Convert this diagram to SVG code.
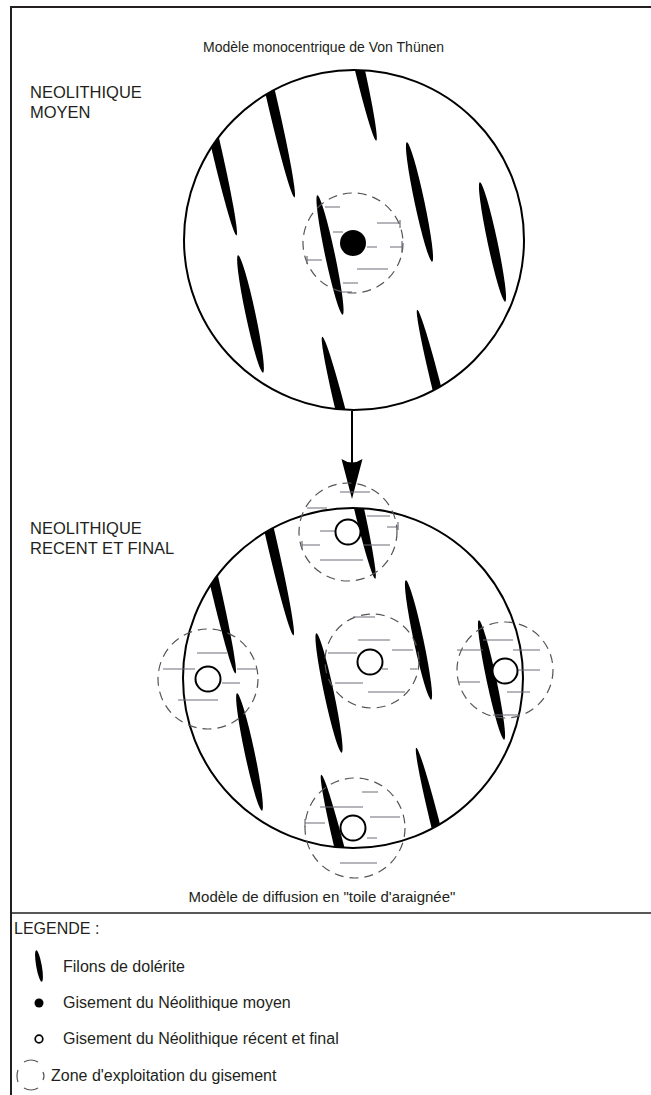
<svg xmlns="http://www.w3.org/2000/svg" xmlns:xlink="http://www.w3.org/1999/xlink" width="651" height="1095" viewBox="0 0 651 1095">
<style>
.t{font-family:"Liberation Sans","Open Sans",Arial,sans-serif;fill:#231f20}
.fil{fill:#000}
.ring{fill:none;stroke:#000;stroke-width:2}
.zone{fill:none;stroke:#555;stroke-width:1.2;stroke-dasharray:9 6}
.h{stroke:#6d6e78;stroke-width:1.2;fill:none}
.site{fill:#fff;stroke:#000;stroke-width:2}
</style>
<defs>
<clipPath id="clipC"><circle cx="354" cy="240" r="170"/></clipPath>
<g id="filons">
<ellipse class="fil" cx="0" cy="0" rx="4.9" ry="100" transform="translate(214,138) rotate(-13)"/>
<ellipse class="fil" cx="0" cy="0" rx="5" ry="100" transform="translate(272,100) rotate(-13)"/>
<ellipse class="fil" cx="0" cy="0" rx="5" ry="90" transform="translate(356,53) rotate(-13)"/>
<ellipse class="fil" cx="0" cy="0" rx="4.9" ry="61" transform="translate(419.5,202) rotate(-12)"/>
<ellipse class="fil" cx="0" cy="0" rx="4.9" ry="61" transform="translate(492.5,242) rotate(-12)"/>
<ellipse class="fil" cx="0" cy="0" rx="4.9" ry="61" transform="translate(330,255) rotate(-12)"/>
<ellipse class="fil" cx="0" cy="0" rx="4.9" ry="60" transform="translate(250.5,314) rotate(-12)"/>
<ellipse class="fil" cx="0" cy="0" rx="5" ry="90" transform="translate(344,424) rotate(-14)"/>
<ellipse class="fil" cx="0" cy="0" rx="4.6" ry="90" transform="translate(439,397) rotate(-14)"/>
</g>
<marker id="arr" viewBox="0 0 40 22" refX="9" refY="11" markerWidth="40" markerHeight="22" markerUnits="userSpaceOnUse" orient="auto">
<path d="M40,11 L0,0.5 Q7,11 0,21.5 Z" fill="#000"/>
</marker>
</defs>

<g id="frame">
<path d="M11,1095 V7 H651" fill="none" stroke="#231f20" stroke-width="2"/>
<line x1="11" y1="913" x2="651" y2="913" stroke="#231f20" stroke-width="1.5"/>
</g>

<text class="t" x="203" y="52" font-size="14">Modèle monocentrique de Von Thünen</text>

<g id="panel-moyen">
<text class="t" x="30" y="98" font-size="16.5">NEOLITHIQUE</text>
<text class="t" x="30" y="118" font-size="16.5">MOYEN</text>
<g clip-path="url(#clipC)"><use xlink:href="#filons"/></g>
<circle class="ring" cx="354" cy="240" r="170"/>
<g id="zone-moyen">
<circle class="zone" cx="353" cy="243" r="50"/>
<path class="h" d="M325,207H340 M377,223H400 M400,220V228 M333,232H343 M367,247H377 M390,247H402 M402,241V253 M307,260H322 M307,256V264 M357,269H388 M343,283H358 M342,292H352"/>
<circle cx="353" cy="243" r="13" fill="#000"/>
</g>
</g>

<g id="connectors">
<line x1="352" y1="411" x2="352" y2="468" stroke="#000" stroke-width="2" marker-end="url(#arr)"/>
</g>

<g id="panel-recent">
<text class="t" x="30" y="534" font-size="16.5">NEOLITHIQUE</text>
<text class="t" x="30" y="554" font-size="16.5">RECENT ET FINAL</text>
<g transform="translate(-1,438)">
<g clip-path="url(#clipC)"><use xlink:href="#filons"/></g>
<circle class="ring" cx="354" cy="240" r="170"/>
</g>
<g id="site-top">
<circle class="zone" cx="348" cy="532" r="49"/>
<path class="h" d="M340,492H370 M307,508H327 M367,516H390 M387,527H398 M398,522V530 M320,531H337 M302,545H320 M302,541V549 M363,545H390 M320,560H363"/>
<circle class="site" cx="348" cy="532" r="12.5"/>
</g>
<g id="site-center">
<circle class="zone" cx="372" cy="661" r="47"/>
<path class="h" d="M353,617H375 M358,640H390 M392,650H413 M328,653H357 M382,669H388 M410,669H417 M335,683H363 M368,692H405"/>
<circle class="site" cx="370" cy="662" r="12.5"/>
</g>
<g id="site-left">
<circle class="zone" cx="208" cy="679" r="50"/>
<path class="h" d="M197,653H227 M163,669H195 M237,669H257 M222,683H240 M178,700H218"/>
<circle class="site" cx="208" cy="679" r="12.5"/>
</g>
<g id="site-right">
<circle class="zone" cx="505" cy="670" r="48"/>
<path class="h" d="M483,640H513 M457,650H483 M513,650H540 M518,670H540 M458,682H480 M507,692H530 M493,715H520"/>
<circle class="site" cx="505" cy="671" r="12.5"/>
</g>
<g id="site-bottom">
<circle class="zone" cx="355" cy="828" r="50"/>
<path class="h" d="M362,792H378 M320,807H363 M370,817H400 M305,823H325 M305,819V827 M367,838H377 M340,863H377"/>
<circle class="site" cx="353" cy="828" r="12.5"/>
</g>
</g>

<text class="t" x="322" y="902" font-size="15" text-anchor="middle">Modèle de diffusion en "toile d'araignée"</text>

<g id="legend">
<text class="t" x="14" y="934" font-size="16">LEGENDE :</text>
<ellipse cx="0" cy="0" rx="2.8" ry="16" transform="translate(39,966) rotate(-10)" fill="#000"/>
<text class="t" x="63" y="972" font-size="16">Filons de dolérite</text>
<circle cx="39" cy="1003" r="4.5" fill="#000"/>
<text class="t" x="63" y="1008" font-size="16">Gisement du Néolithique moyen</text>
<circle cx="39" cy="1039" r="3.8" fill="#fff" stroke="#000" stroke-width="1.7"/>
<text class="t" x="63" y="1044" font-size="16">Gisement du Néolithique récent et final</text>
<path d="M24,1062 Q31,1058 38,1062 M18,1070 Q16,1076 18,1082 M43,1072 Q45,1076 43,1080 M24,1088 Q31,1092 38,1088" fill="none" stroke="#555" stroke-width="1.2"/>
<text class="t" x="51" y="1081" font-size="16">Zone d'exploitation du gisement</text>
</g>
</svg>
